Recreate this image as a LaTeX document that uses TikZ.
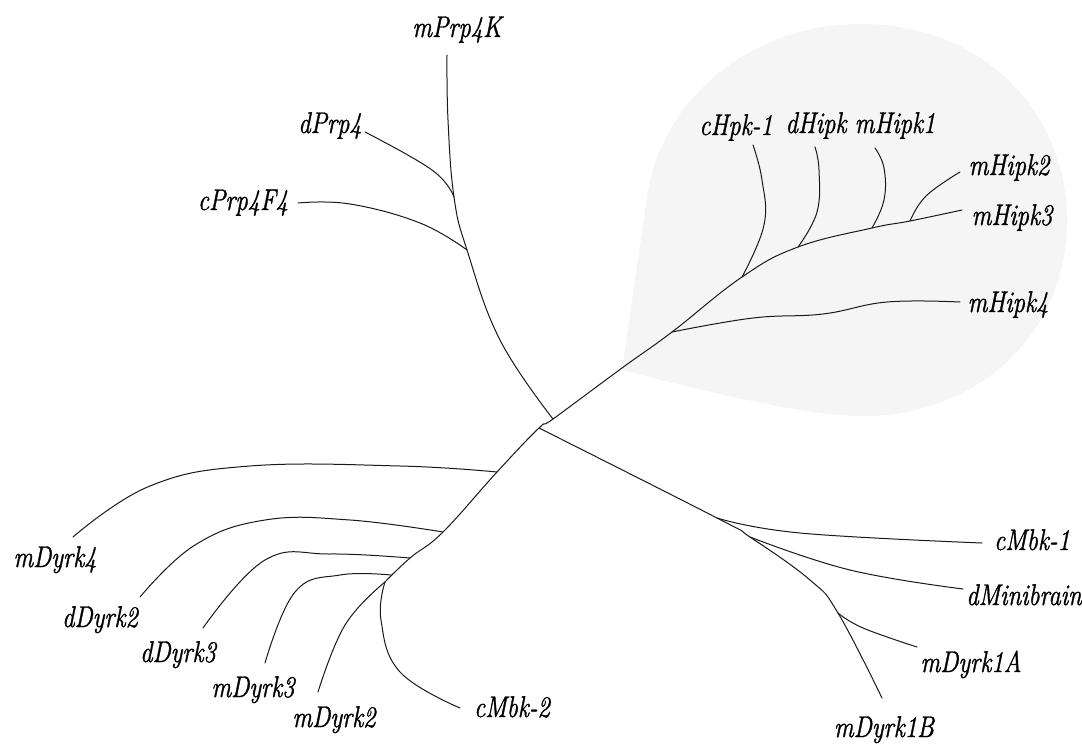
\documentclass[tikz,border=0pt]{standalone}
\usepackage{fontspec}
\usepackage{graphicx}

% slanted, slightly heavier lettering for the leaf names
\newfontfamily\handfont{Latin Modern Roman}[FakeBold=1.3]
\newcommand\handtext[1]{\scalebox{0.82}[1]{#1}}

\begin{document}
\begin{tikzpicture}[x=1pt, y=-1pt,
  branch/.style={draw=black!90, line width=1pt, line join=round, line cap=round},
  leaf/.style={anchor=base, inner sep=0pt, text=black,
    font=\fontsize{30}{30}\handfont\itshape},
  cladebg/.style={fill=black!4, draw=none}]

\useasboundingbox (0,0) rectangle (1082,750);
\fill[white] (0,0) rectangle (1082,750);

% shaded background behind the Hipk clade
\path[cladebg] (622,370) -- (646,205)
  .. controls (655,110) and (740,26) .. (857,24)
  .. controls (985,22) and (1067,115) .. (1067,220)
  .. controls (1067,340) and (970,418) .. (860,416)
  .. controls (800,415) and (700,390) .. (622,370) -- cycle;

% ---- internal nodes ----
\coordinate (U)  at (553,419);   % Prp4 group joins
\coordinate (L)  at (539,428);   % Dyrk1 group joins
\coordinate (h0) at (672,332);
\coordinate (h1) at (742,277);
\coordinate (h2) at (798,247);
\coordinate (h3) at (872,228);
\coordinate (h4) at (910,221);
\coordinate (p1) at (454,197);
\coordinate (p2) at (467,250);
\coordinate (d1) at (497,472);
\coordinate (d2) at (443,532);
\coordinate (d3) at (410,558);
\coordinate (d4) at (391,575);
\coordinate (d5) at (385,582);
\coordinate (k1) at (717,518);
\coordinate (k2) at (750,537);
\coordinate (k3) at (838,613);

% ---- branch tips ----
\coordinate (tPrp4K)  at (447,55);
\coordinate (tdPrp4)  at (365,132);
\coordinate (tcPrp)   at (298,203);
\coordinate (tcHpk)   at (753,145);
\coordinate (tdHipk)  at (815,147);
\coordinate (tHipk1)  at (875,148);
\coordinate (tHipk2)  at (960,172);
\coordinate (tHipk3)  at (962,210);
\coordinate (tHipk4)  at (960,302);
\coordinate (tDyrk4)  at (73,537);
\coordinate (tdDyrk2) at (140,597);
\coordinate (tdDyrk3) at (203,628);
\coordinate (tDyrk3)  at (265,663);
\coordinate (tDyrk2)  at (318,692);
\coordinate (tcMbk2)  at (460,708);
\coordinate (tcMbk1)  at (982,543);
\coordinate (tMini)   at (963,589);
\coordinate (tDyrk1A) at (917,647);
\coordinate (tDyrk1B) at (882,698);

% ---- leaf labels ----
\node[leaf] (lPrp4K)  at (457,37)  {\handtext{mPrp4K}};
\node[leaf] (ldPrp4)  at (330,133) {\handtext{dPrp4}};
\node[leaf] (lcPrp)   at (243,210) {\handtext{cPrp4F4}};
\node[leaf] (lcHpk)   at (736,135) {\handtext{cHpk-1}};
\node[leaf] (ldHipk)  at (816,133) {\handtext{dHipk}};
\node[leaf] (lHipk1)  at (895,133) {\handtext{mHipk1}};
\node[leaf] (lHipk2)  at (1009,175) {\handtext{mHipk2}};
\node[leaf] (lHipk3)  at (1012,225) {\handtext{mHipk3}};
\node[leaf] (lHipk4)  at (1008,312) {\handtext{mHipk4}};
\node[leaf] (lDyrk4)  at (55,567)  {\handtext{mDyrk4}};
\node[leaf] (ldDyrk2) at (100,627) {\handtext{dDyrk2}};
\node[leaf] (ldDyrk3) at (178,662) {\handtext{dDyrk3}};
\node[leaf] (lDyrk3)  at (253,697) {\handtext{mDyrk3}};
\node[leaf] (lDyrk2)  at (334,727) {\handtext{mDyrk2}};
\node[leaf] (lcMbk2)  at (512,717) {\handtext{cMbk-2}};
\node[leaf] (lcMbk1)  at (1032,550) {\handtext{cMbk-1}};
\node[leaf] (lMini)   at (1024,605) {\handtext{dMinibrain}};
\node[leaf] (lDyrk1A) at (971,672) {\handtext{mDyrk1A}};
\node[leaf] (lDyrk1B) at (884,737) {\handtext{mDyrk1B}};

% ---- main trunk: Hipk side down to the Dyrk2/3/4 group ----
\draw[branch] plot[smooth, tension=0.7] coordinates {(tHipk3) (h4) (h3) (h2)
  (h1) (h0) (622,368) (U) (L) (d1) (d2) (d3) (d5)};

% ---- Prp4 group ----
\draw[branch] plot[smooth, tension=0.7] coordinates {(tPrp4K) (448,120) (p1) (p2) (500,340) (U)};
\draw[branch] plot[smooth, tension=0.7] coordinates {(p1) (432,170) (tdPrp4)};
\draw[branch] plot[smooth, tension=0.7] coordinates {(p2) (420,223) (350,204) (tcPrp)};

% ---- Hipk group ----
\draw[branch] plot[smooth, tension=0.7] coordinates {(h0) (753,318) (823,314) (887,302) (tHipk4)};
\draw[branch] plot[smooth, tension=0.7] coordinates {(h1) (764,225) (762,180) (tcHpk)};
\draw[branch] plot[smooth, tension=0.7] coordinates {(h2) (817,212) (819,170) (tdHipk)};
\draw[branch] plot[smooth, tension=0.7] coordinates {(h3) (884,200) (884,168) (tHipk1)};
\draw[branch] plot[smooth, tension=0.7] coordinates {(h4) (926,196) (tHipk2)};

% ---- Dyrk2/3/4 group ----
\draw[branch] plot[smooth, tension=0.7] coordinates {(d1) (400,466) (250,466) (150,486) (tDyrk4)};
\draw[branch] plot[smooth, tension=0.7] coordinates {(d2) (350,520) (265,520) (195,545) (tdDyrk2)};
\draw[branch] plot[smooth, tension=0.7] coordinates {(d3) (330,554) (265,560) (tdDyrk3)};
\draw[branch] plot[smooth, tension=0.7] coordinates {(d4) (340,575) (295,592) (tDyrk3)};
\draw[branch] plot[smooth, tension=0.7] coordinates {(d5) (345,625) (tDyrk2)};
\draw[branch] plot[smooth, tension=0.7] coordinates {(d5) (381,620) (400,672) (tcMbk2)};

% ---- Dyrk1 group ----
\draw[branch] plot[smooth, tension=0.7] coordinates {(L) (k1) (k2) (810,580) (k3) (tDyrk1B)};
\draw[branch] plot[smooth, tension=0.7] coordinates {(k1) (800,533) (tcMbk1)};
\draw[branch] plot[smooth, tension=0.7] coordinates {(k2) (850,570) (tMini)};
\draw[branch] plot[smooth, tension=0.7] coordinates {(k3) (863,628) (tDyrk1A)};

\end{tikzpicture}
\end{document}
